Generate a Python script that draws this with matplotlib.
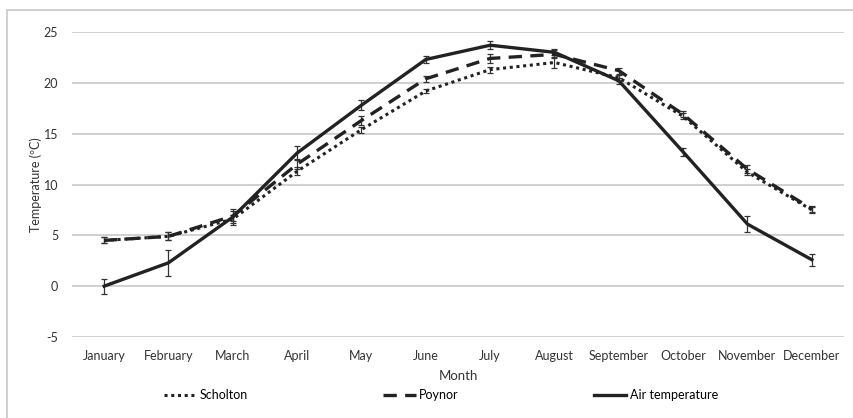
import matplotlib.pyplot as plt
from matplotlib.patches import Rectangle
from matplotlib.lines import Line2D

# Monthly values
months = ['January', 'February', 'March', 'April', 'May', 'June', 'July',
          'August', 'September', 'October', 'November', 'December']
scholton = [4.5, 4.9, 6.6, 11.3, 15.4, 19.2, 21.3, 22.0, 20.5, 16.7, 11.2, 7.5]
scholton_err = [0.3, 0.4, 0.4, 0.4, 0.3, 0.2, 0.3, 0.5, 0.3, 0.3, 0.3, 0.3]
poynor = [4.5, 4.9, 6.9, 12.0, 16.3, 20.4, 22.4, 22.8, 21.2, 16.9, 11.5, 7.6]
poynor_err = [0.3, 0.4, 0.5, 0.5, 0.4, 0.3, 0.4, 0.4, 0.3, 0.3, 0.4, 0.3]
air = [0.0, 2.3, 6.8, 13.1, 17.8, 22.3, 23.7, 23.0, 20.2, 13.2, 6.1, 2.6]
air_err = [0.75, 1.3, 0.8, 0.7, 0.5, 0.3, 0.4, 0.3, 0.3, 0.4, 0.8, 0.6]

plt.rcParams['font.family'] = ['Lato', 'DejaVu Sans']
plt.rcParams['axes.unicode_minus'] = False

fig = plt.figure(figsize=(8.54, 4.18), dpi=100)
fig.patches.append(Rectangle((7/854, -0.1), 1.1, 1.1 - 10/418, transform=fig.transFigure,
                             fill=False, edgecolor='#c8c8c8', linewidth=1.2))
ax = fig.add_axes([72/854, 81/418, 772/854, 305/418])

x = list(range(len(months)))
eb = dict(ecolor='#333333', elinewidth=0.9, capsize=2.5, capthick=0.9)
styles = [(0, (1, 1.2)), (0, (4, 2.5)), '-']
widths = [2.2, 2.4, 2.4]
ax.errorbar(x, scholton, yerr=scholton_err, color='#222222', linestyle=styles[0],
            linewidth=widths[0], **eb)
ax.errorbar(x, poynor, yerr=poynor_err, color='#222222', linestyle=styles[1],
            linewidth=widths[1], **eb)
ax.errorbar(x, air, yerr=air_err, color='#222222', linestyle=styles[2],
            linewidth=widths[2], **eb)

ax.set_xlim(-0.5, 11.5)
ax.set_ylim(-5, 25)
ax.set_yticks([-5, 0, 5, 10, 15, 20, 25])
ax.set_xticks(x)
ax.set_xticklabels(months)
ax.grid(axis='y', color='#c8c8c8', linewidth=1.2)
ax.set_axisbelow(True)
for s in ax.spines.values():
    s.set_visible(False)
ax.tick_params(length=0, labelsize=9, colors='#333333')
ax.tick_params(axis='y', pad=10)
ax.tick_params(axis='x', pad=9)
ax.set_xlabel('Month', fontsize=9.5, color='#333333', labelpad=6)
ax.set_ylabel('Temperature (ºC)', fontsize=9, color='#333333', labelpad=1)

handles = [Line2D([], [], color='#222222', linestyle=s, linewidth=w)
           for s, w in zip(styles, widths)]
fig.legend(handles, ['Scholton', 'Poynor', 'Air temperature'], loc='center',
           bbox_to_anchor=(441/854, 1 - 395/418), ncol=3, frameon=False, fontsize=9,
           handlelength=2.6, handletextpad=0.3, columnspacing=10.8)

fig.savefig('out.png', dpi=100)
